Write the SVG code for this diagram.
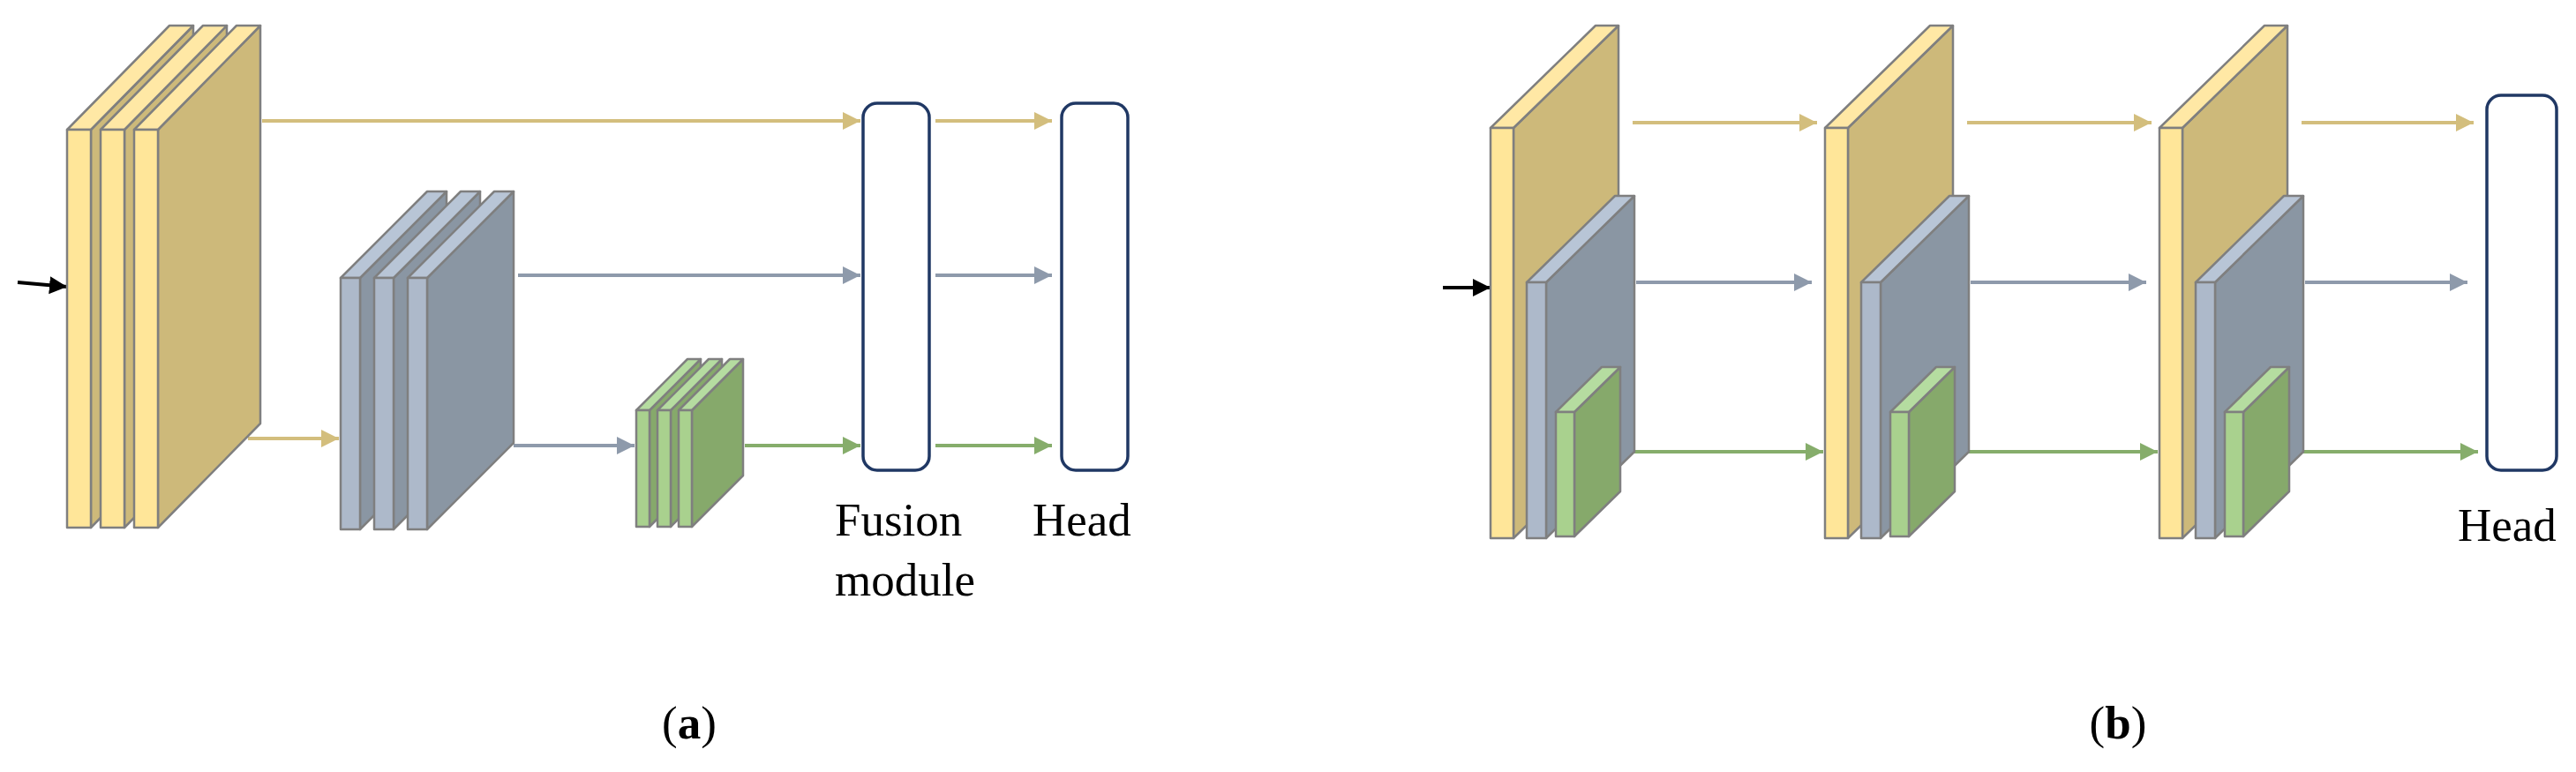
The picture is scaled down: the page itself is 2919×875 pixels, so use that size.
<svg xmlns="http://www.w3.org/2000/svg" xmlns:xlink="http://www.w3.org/1999/xlink" width="2919" height="875" viewBox="0 0 2919 875">
<style>
.s{stroke:#7f7f7f;stroke-width:2.5;stroke-linejoin:round}
.yf{fill:#ffe699}.ys{fill:#cdb97a}.yt{fill:#ffe8a5}
.gf{fill:#adb9ca}.gs{fill:#8a96a3}.gt{fill:#b8c5d6}
.nf{fill:#a9d18e}.ns{fill:#86a96b}.nt{fill:#b5dca0}
.box{fill:#fff;stroke:#203864;stroke-width:3.5}
.ay{stroke:#d3be7d;stroke-width:4;fill:none}
.ag{stroke:#8e9aab;stroke-width:4;fill:none}
.an{stroke:#86ad6b;stroke-width:4;fill:none}
.t{font-family:'Liberation Serif','Times New Roman',serif;font-size:53px;fill:#000}
</style>
<defs>
<marker id="my" markerUnits="userSpaceOnUse" markerWidth="22" markerHeight="22" refX="20" refY="10" orient="auto"><path d="M0,0L20,10L0,20z" fill="#d3be7d"/></marker>
<marker id="mg" markerUnits="userSpaceOnUse" markerWidth="22" markerHeight="22" refX="20" refY="10" orient="auto"><path d="M0,0L20,10L0,20z" fill="#8e9aab"/></marker>
<marker id="mn" markerUnits="userSpaceOnUse" markerWidth="22" markerHeight="22" refX="20" refY="10" orient="auto"><path d="M0,0L20,10L0,20z" fill="#86ad6b"/></marker>
<marker id="mk" markerUnits="userSpaceOnUse" markerWidth="22" markerHeight="22" refX="20" refY="10" orient="auto"><path d="M0,0L20,10L0,20z" fill="#000"/></marker>
<g id="stage" class="s">
<polygon class="ys" points="1715,145 1834,29 1834,494 1715,610"/>
<polygon class="yt" points="1689,145 1715,145 1834,29 1808,29"/>
<rect class="yf" x="1689" y="145" width="26" height="465"/>
<polygon class="gs" points="1752,320 1852,222 1852,512 1752,610"/>
<polygon class="gt" points="1730,320 1752,320 1852,222 1830,222"/>
<rect class="gf" x="1730" y="320" width="22" height="290"/>
<polygon class="ns" points="1784,467 1836,416 1836,557 1784,608"/>
<polygon class="nt" points="1763,467 1784,467 1836,416 1815,416"/>
<rect class="nf" x="1763" y="467" width="21" height="141"/>
</g>
</defs>
<rect width="2919" height="875" fill="#fff"/>

<g id="connectors">
<line x1="20" y1="320" x2="76" y2="325" stroke="#000" stroke-width="4" marker-end="url(#mk)"/>
<line class="ay" x1="297" y1="137" x2="975" y2="137" marker-end="url(#my)"/>
<line class="ay" x1="281" y1="497" x2="384" y2="497" marker-end="url(#my)"/>
<line class="ag" x1="587" y1="312" x2="975" y2="312" marker-end="url(#mg)"/>
<line class="ag" x1="582" y1="505" x2="719" y2="505" marker-end="url(#mg)"/>
<line class="an" x1="844" y1="505" x2="975" y2="505" marker-end="url(#mn)"/>
<line class="ay" x1="1060" y1="137" x2="1192" y2="137" marker-end="url(#my)"/>
<line class="ag" x1="1060" y1="312" x2="1192" y2="312" marker-end="url(#mg)"/>
<line class="an" x1="1060" y1="505" x2="1192" y2="505" marker-end="url(#mn)"/>
<line x1="1635" y1="326" x2="1689" y2="326" stroke="#000" stroke-width="4" marker-end="url(#mk)"/>
<line class="ay" x1="1850" y1="139" x2="2059" y2="139" marker-end="url(#my)"/>
<line class="ag" x1="1854" y1="320" x2="2053" y2="320" marker-end="url(#mg)"/>
<line class="an" x1="1838" y1="512" x2="2066" y2="512" marker-end="url(#mn)"/>
<line class="ay" x1="2229" y1="139" x2="2438" y2="139" marker-end="url(#my)"/>
<line class="ag" x1="2233" y1="320" x2="2432" y2="320" marker-end="url(#mg)"/>
<line class="an" x1="2217" y1="512" x2="2445" y2="512" marker-end="url(#mn)"/>
<line class="ay" x1="2608" y1="139" x2="2803" y2="139" marker-end="url(#my)"/>
<line class="ag" x1="2612" y1="320" x2="2796" y2="320" marker-end="url(#mg)"/>
<line class="an" x1="2596" y1="512" x2="2808" y2="512" marker-end="url(#mn)"/>
</g>

<g id="a-yellow" class="s">
<polygon class="ys" points="103,147 219,29 219,480 103,598"/>
<polygon class="yt" points="76,147 103,147 219,29 192,29"/>
<rect class="yf" x="76" y="147" width="27" height="451"/>
<polygon class="ys" points="141,147 257,29 257,480 141,598"/>
<polygon class="yt" points="114,147 141,147 257,29 230,29"/>
<rect class="yf" x="114" y="147" width="27" height="451"/>
<polygon class="ys" points="179,147 295,29 295,480 179,598"/>
<polygon class="yt" points="152,147 179,147 295,29 268,29"/>
<rect class="yf" x="152" y="147" width="27" height="451"/>
</g>
<g id="a-grey" class="s">
<polygon class="gs" points="408,315 506,217 506,502 408,600"/>
<polygon class="gt" points="386,315 408,315 506,217 484,217"/>
<rect class="gf" x="386" y="315" width="22" height="285"/>
<polygon class="gs" points="446,315 544,217 544,502 446,600"/>
<polygon class="gt" points="424,315 446,315 544,217 522,217"/>
<rect class="gf" x="424" y="315" width="22" height="285"/>
<polygon class="gs" points="484,315 582,217 582,502 484,600"/>
<polygon class="gt" points="462,315 484,315 582,217 560,217"/>
<rect class="gf" x="462" y="315" width="22" height="285"/>
</g>
<g id="a-green" class="s">
<polygon class="ns" points="736,465 794,407 794,539 736,597"/>
<polygon class="nt" points="721,465 736,465 794,407 779,407"/>
<rect class="nf" x="721" y="465" width="15" height="132"/>
<polygon class="ns" points="760,465 818,407 818,539 760,597"/>
<polygon class="nt" points="745,465 760,465 818,407 803,407"/>
<rect class="nf" x="745" y="465" width="15" height="132"/>
<polygon class="ns" points="784,465 842,407 842,539 784,597"/>
<polygon class="nt" points="769,465 784,465 842,407 827,407"/>
<rect class="nf" x="769" y="465" width="15" height="132"/>
</g>
<g id="a-fusion">
<rect class="box" x="978" y="117" width="75" height="416" rx="16"/>
<text class="t" x="946" y="607">Fusion</text>
<text class="t" x="946" y="675">module</text>
</g>
<g id="a-head">
<rect class="box" x="1203" y="117" width="75" height="416" rx="16"/>
<text class="t" x="1170" y="607">Head</text>
</g>

<g id="b-stage1"><use xlink:href="#stage"/></g>
<g id="b-stage2"><use xlink:href="#stage" transform="translate(379,0)"/></g>
<g id="b-stage3"><use xlink:href="#stage" transform="translate(758,0)"/></g>
<g id="b-head">
<rect class="box" x="2818" y="108" width="79" height="425" rx="16"/>
<text class="t" x="2785" y="613">Head</text>
</g>

<text class="t" x="781" y="837" text-anchor="middle" font-size="56">(<tspan font-weight="bold">a</tspan>)</text>
<text class="t" x="2400" y="837" text-anchor="middle" font-size="56">(<tspan font-weight="bold">b</tspan>)</text>
</svg>
